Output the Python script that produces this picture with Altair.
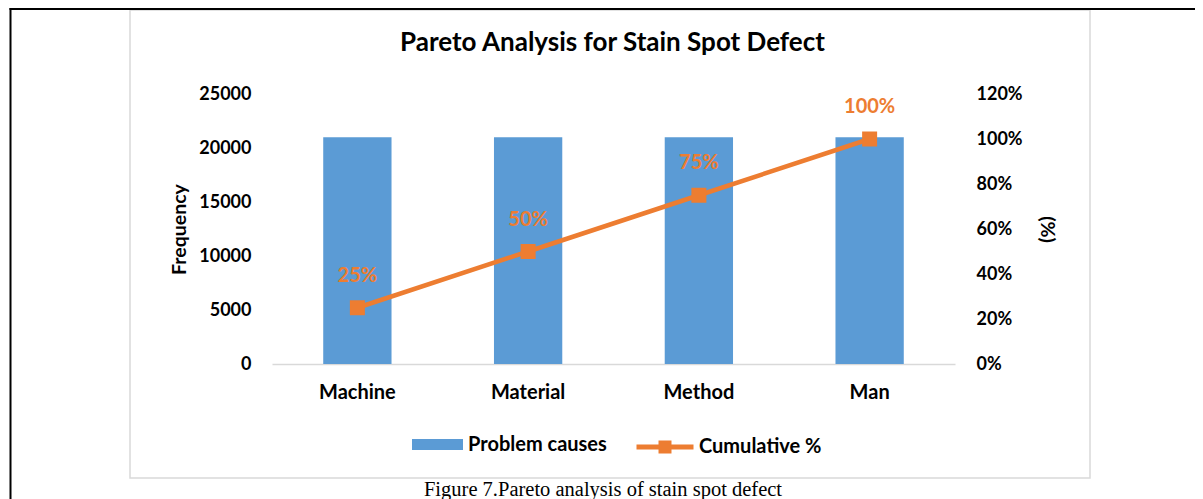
import altair as alt
import pandas as pd

categories = ["Machine", "Material", "Method", "Man"]
frequency = [21000, 21000, 21000, 21000]
cumulative = [0.25, 0.50, 0.75, 1.00]
bar_series = ["Problem causes"] * 4
line_series = ["Cumulative %"] * 4

freq_ticks = [0, 5000, 10000, 15000, 20000, 25000]
pct_ticks = [0, 0.2, 0.4, 0.6, 0.8, 1.0, 1.2]

title_text = ["Pareto Analysis for Stain Spot Defect"]
caption_text = "Figure 7.Pareto analysis of stain spot defect"

df = pd.DataFrame({
    "cause": categories,
    "freq": frequency,
    "cum": cumulative,
    "bs": bar_series,
    "ls": line_series,
})
frame_df = pd.DataFrame({"k": [0]})
title_df = pd.DataFrame({"t": title_text})

FONT = "Lato"
BLUE = "#5B9BD5"
ORANGE = "#ED7D31"

x_enc = alt.X(
    "cause:N", sort=categories,
    scale=alt.Scale(paddingInner=0.6, paddingOuter=0.3),
    axis=alt.Axis(
        title=caption_text, labelAngle=0, ticks=False,
        domainColor="#D9D9D9", domainWidth=1.5,
        labelFont=FONT, labelFontSize=20, labelFontWeight="bold", labelColor="black",
        labelPadding=18,
        titleFont="Liberation Serif", titleFontSize=20.5, titleFontWeight="normal",
        titleColor="black", titleX=330.5, titleY=131, titleBaseline="alphabetic",
        titleAlign="center",
    ),
)

left_axis = alt.Axis(
    orient="left", values=freq_ticks, format="d", domain=False, ticks=False, grid=False,
    labelFont=FONT, labelFontSize=18, labelFontWeight="bold", labelColor="black",
    labelPadding=21, title="Frequency", titleFont=FONT, titleFontSize=19.5,
    titleFontWeight="bold", titleColor="black", titlePadding=9,
)
right_axis = alt.Axis(
    orient="right", values=pct_ticks, format=".0%", domain=False, ticks=False, grid=False,
    labelFont=FONT, labelFontSize=18, labelFontWeight="bold", labelColor="black",
    labelPadding=21, title="(%)", titleFont=FONT, titleFontSize=19.5,
    titleFontWeight="bold", titleColor="black", titlePadding=14, titleAngle=90,
)

frame = alt.Chart(frame_df).mark_rect(filled=False, stroke="#D9D9D9", strokeWidth=1.5).encode(
    x=alt.value(-142), x2=alt.value(818), y=alt.value(-84), y2=alt.value(384)
)
left_line = alt.Chart(frame_df).mark_rule(color="black", strokeWidth=2).encode(
    x=alt.value(-261.5), y=alt.value(-86), y2=alt.value(406)
)
top_line = alt.Chart(frame_df).mark_rule(color="black", strokeWidth=2).encode(
    x=alt.value(-262.5), x2=alt.value(931), y=alt.value(-85)
)
title_mark = alt.Chart(title_df).mark_text(
    font=FONT, fontSize=26, fontWeight="bold", color="black",
    align="center", baseline="alphabetic",
).encode(x=alt.value(340.5), y=alt.value(-43), text="t:N")

bars = alt.Chart(df).mark_bar().encode(
    x=x_enc,
    y=alt.Y("freq:Q", scale=alt.Scale(domain=[0, 25000], nice=False), axis=left_axis),
    color=alt.Color(
        "bs:N", scale=alt.Scale(domain=["Problem causes"], range=[BLUE]),
        legend=alt.Legend(
            title=None, orient="none", legendX=140, legendY=325, padding=0,
            symbolType="M-1,-0.2157H1V0.2157H-1Z", symbolSize=2601, symbolStrokeWidth=0,
            labelFont=FONT, labelFontSize=20, labelFontWeight="bold", labelColor="black",
            labelOffset=5,
        ),
    ),
)

y_cum = alt.Y("cum:Q", scale=alt.Scale(domain=[0, 1.2], nice=False), axis=right_axis)

line = alt.Chart(df).mark_line(color=ORANGE, strokeWidth=4.5).encode(x=x_enc, y=y_cum)
points = alt.Chart(df).mark_point(shape="square", filled=True, size=225, opacity=1).encode(
    x=x_enc, y=y_cum,
    fill=alt.Fill(
        "ls:N", scale=alt.Scale(domain=["Cumulative %"], range=[ORANGE]),
        legend=alt.Legend(
            title=None, orient="none", legendX=362, legendY=322, padding=0,
            symbolType="M-1,0H1M-0.14,-0.14H0.14V0.14H-0.14Z", symbolSize=3249,
            symbolStrokeColor=ORANGE, symbolStrokeWidth=5,
            labelFont=FONT, labelFontSize=20, labelFontWeight="bold", labelColor="black",
            labelOffset=3,
        ),
    ),
)
labels = alt.Chart(df).mark_text(
    dy=-32, font=FONT, fontSize=20, fontWeight="bold", color=ORANGE
).encode(x=x_enc, y=y_cum, text=alt.Text("cum:Q", format=".0%"))

right_layer = alt.layer(line, points, labels)

chart = alt.layer(frame, bars, right_layer, left_line, top_line, title_mark).resolve_scale(
    y="independent", color="independent", fill="independent"
).properties(
    width=683, height=270,
    autosize=alt.AutoSizeParams(type="none"),
    padding={"left": 264, "top": 86, "right": 240, "bottom": 135},
).configure(background="white").configure_view(strokeWidth=0, stroke=None)

chart.save("out.html", embed_options={"renderer": "svg", "actions": False})
